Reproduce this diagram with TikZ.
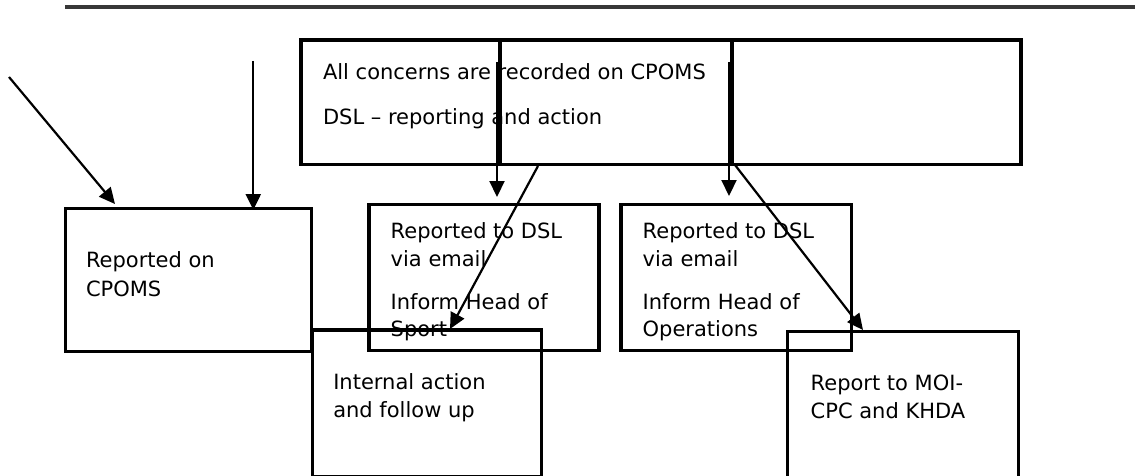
\documentclass[tikz,border=0pt]{standalone}
\usepackage{fontspec}
\setmainfont{DejaVu Sans}
\usetikzlibrary{arrows.meta}
\tikzset{
  boxshape/.style={draw, line width=3.3pt, inner sep=0pt, outer sep=0pt, anchor=north west},
  divline/.style={line width=3.3pt},
  arr/.style={line width=2.2pt, -{Triangle[length=16pt,width=15pt]}},
  txt/.style={inner sep=0pt, outer sep=0pt, anchor=base west, font=\fontsize{21pt}{28.5pt}\selectfont},
  rule/.style={line width=4pt, black!78}
}
\begin{document}
\begin{tikzpicture}[x=1pt,y=-1pt]
\useasboundingbox (0,0) rectangle (1135,476);
\clip (0,0) rectangle (1135,476);
% top rule
\coordinate (r1) at (65,7.3);
\coordinate (r2) at (1135,7.3);
\draw[rule] (r1) -- (r2);
% top box
\node[boxshape, minimum width=720pt, minimum height=124.5pt] (top) at (301,40) {};
\draw[divline] (500,40) -- (500,164.5);
\draw[divline] (732,40) -- (732,164.5);
\node[txt] (t1) at (323,79.3) {All concerns are recorded on CPOMS};
\node[txt] (t2) at (323,124.3) {DSL – reporting and action};
% CPOMS box
\node[boxshape, minimum width=246pt, minimum height=143pt] (cpoms) at (65.5,208.3) {};
\node[txt] (c1) at (86,267.3) {Reported on};
\node[txt] (c2) at (86,296) {CPOMS};
% Sport box
\node[boxshape, minimum width=230pt, minimum height=146.5pt] (sport) at (369,204.3) {};
\node[txt] (s1) at (390.7,238.3) {Reported to DSL};
\node[txt] (s2) at (390.7,266) {via email};
\node[txt] (s3) at (390.7,309.3) {Inform Head of};
\node[txt] (s4) at (390.7,336.7) {Sport};
% Operations box
\node[boxshape, minimum width=230.5pt, minimum height=146.5pt] (ops) at (621,204.3) {};
\node[txt] (o1) at (642.7,238.3) {Reported to DSL};
\node[txt] (o2) at (642.7,266) {via email};
\node[txt] (o3) at (642.7,309.3) {Inform Head of};
\node[txt] (o4) at (642.7,336.7) {Operations};
% Internal action box
\node[boxshape, minimum width=229.5pt, minimum height=147pt] (internal) at (312.3,330) {};
\node[txt] (i1) at (333.3,389) {Internal action};
\node[txt] (i2) at (333.3,417.7) {and follow up};
% MOI box
\node[boxshape, minimum width=230.5pt, minimum height=146pt] (moi) at (787.8,331.5) {};
\node[txt] (m1) at (810.7,390.7) {Report to MOI-};
\node[txt] (m2) at (810.7,418.3) {CPC and KHDA};
% arrows
\coordinate (a1s) at (9,77);
\coordinate (a1e) at (115,204);
\coordinate (a2s) at (253.3,61);
\coordinate (a2e) at (253.3,210);
\coordinate (a3s) at (497,62);
\coordinate (a3e) at (497,197);
\coordinate (a4s) at (729,62);
\coordinate (a4e) at (729,196);
\coordinate (a5s) at (538,166);
\coordinate (a5e) at (450,329);
\coordinate (a6s) at (735,165);
\coordinate (a6e) at (863,330);
\draw[arr] (a1s) -- (a1e);
\draw[arr] (a2s) -- (a2e);
\draw[arr] (a3s) -- (a3e);
\draw[arr] (a4s) -- (a4e);
\draw[arr] (a5s) -- (a5e);
\draw[arr] (a6s) -- (a6e);
\end{tikzpicture}
\end{document}
